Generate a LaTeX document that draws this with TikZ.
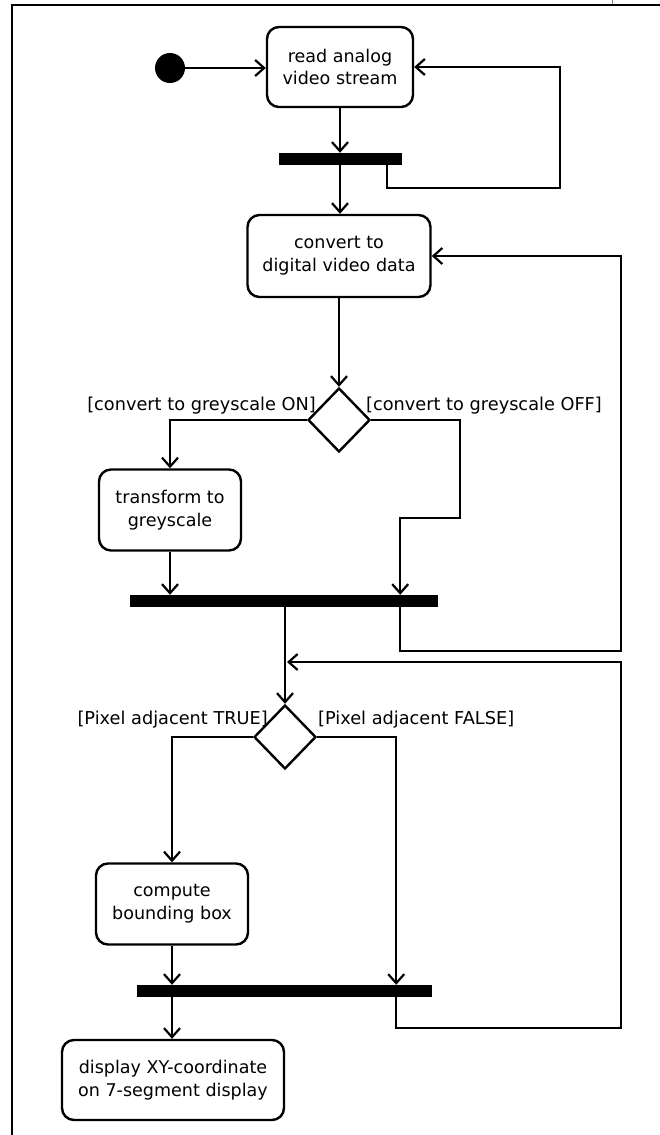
\documentclass[tikz,border=0pt]{standalone}
\usepackage{fontspec}
\setmainfont{DejaVu Sans}
\usetikzlibrary{arrows.meta,shapes.geometric}

\tikzset{
  action/.style={draw, line width=2.4bp, rounded corners=12bp, align=center, inner sep=0pt,
    font=\fontsize{17.6}{23}\selectfont},
  bar/.style={fill=black, inner sep=0pt, minimum height=12bp},
  choice/.style={draw, diamond, line width=2.4bp, inner sep=0pt, minimum width=62bp, minimum height=64bp},
  flow/.style={line width=2.2bp, -{Straight Barb[length=9bp,width=16bp]}},
  guard/.style={inner sep=0pt, font=\fontsize{17.8}{20}\selectfont},
}

\begin{document}
\begin{tikzpicture}[x=1bp,y=-1bp]
    \useasboundingbox (0,0) rectangle (660,1135);
    \draw[line width=2.5bp] (12,1135) -- (12,5) -- (660,5);
    \draw[gray, line width=0.6bp] (612,0) -- (612,4);

    \node[circle, fill=black, minimum size=30bp, inner sep=0pt] (start) at (170,68) {};
    \node[action, minimum width=146bp, minimum height=80bp] (A) at (340,67) {read analog\\video stream};
    \node[bar, minimum width=123bp] (bar1) at (340,159) {};
    \node[action, minimum width=183bp, minimum height=82bp] (B) at (339,256) {convert to\\digital video data};
    \node[choice] (d1) at (339,420) {};
    \node[action, minimum width=142bp, minimum height=81bp] (C) at (170,510) {transform to\\greyscale};
    \node[bar, minimum width=308bp] (bar2) at (284,601) {};
    \node[choice] (d2) at (285,737) {};
    \node[action, minimum width=152bp, minimum height=81bp] (D) at (172,904) {compute\\bounding box};
    \node[bar, minimum width=295bp] (bar3) at (284.5,991) {};
    \node[action, minimum width=222bp, minimum height=80bp] (E) at (173,1080) {display XY-coordinate\\on 7-segment display};

    \node[guard, anchor=base east] (g1) at (316,410) {[convert to greyscale ON]};
    \node[guard, anchor=base west] (g2) at (366,410) {[convert to greyscale OFF]};
    \node[guard, anchor=base east] (g3) at (268,724) {[Pixel adjacent TRUE]};
    \node[guard, anchor=base west] (g4) at (318,724) {[Pixel adjacent FALSE]};

    \coordinate (r1) at (560,188);
    \coordinate (r2) at (621,651);
    \coordinate (r3) at (621,1028);
    \coordinate (k1) at (460,518);
    \coordinate (m) at (287,662);
    \coordinate (j2) at ([xshift=-38bp]bar2.north east);
    \coordinate (j3) at ([xshift=-36bp]bar3.north east);

    \draw[flow] (start) -- (start -| A.west);
    \draw[flow] (A) -- (bar1.north);
    \draw[flow] ([xshift=-15bp]bar1.south east) |- (r1) |- (A.east);
    \draw[flow] (bar1) -- (bar1.south |- B.north);
    \draw[flow] (B) -- (d1.north);
    \draw[flow] ([xshift=-38bp]bar2.south east) |- (r2) |- (B.east);
    \draw[flow] (d1.west) -| (C.north);
    \draw[flow] (d1.east) -| (k1) -| (j2);
    \draw[flow] (C) -- (C.south |- bar2.north);
    \draw[flow] (bar2.south -| d2.north) -- (d2.north);
    \draw[flow] ([xshift=-36bp]bar3.south east) |- (r3) |- (m);
    \draw[flow] (d2.west) -| (D.north);
    \draw[flow] (d2.east) -| (j3);
    \draw[flow] (D) -- (D.south |- bar3.north);
    \draw[flow] (bar3.south -| D.south) -- (D.south |- E.north);
\end{tikzpicture}
\end{document}
